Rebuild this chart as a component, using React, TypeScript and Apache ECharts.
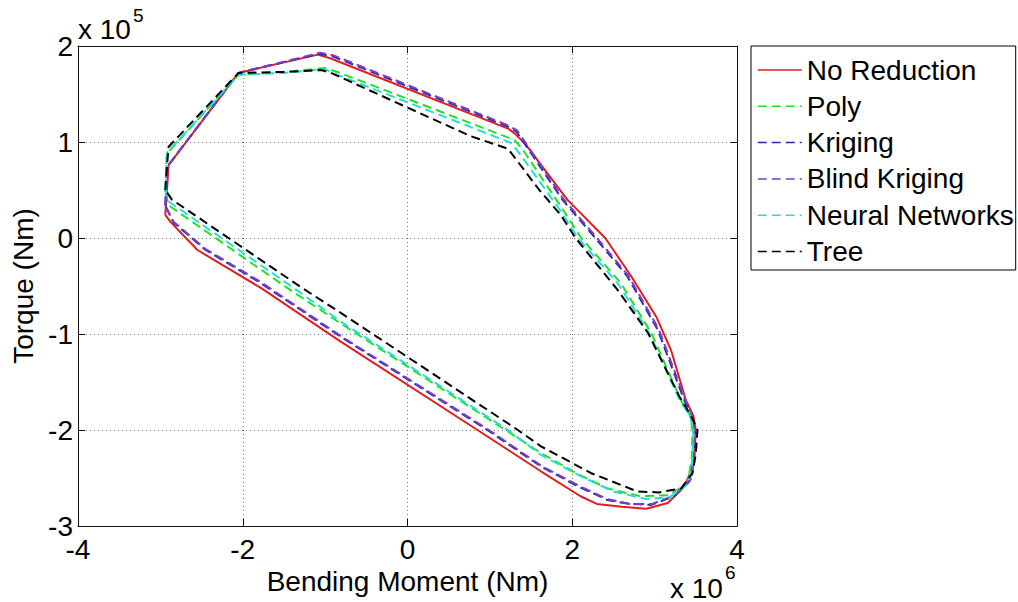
import React, { useEffect, useRef } from "react";
import * as echarts from "echarts";

// Bending moment in units of 1e6 Nm, torque in units of 1e5 Nm
const noReductionX = [-2.94, -2.92, -2.9, -2.05, -1.09, -0.93, 1.22, 1.3, 1.42, 1.94, 2.4, 2.71, 3.02, 3.2, 3.38, 3.47, 3.5, 3.48, 3.43, 3.36, 3.16, 2.9, 2.6, 2.3, 2.1, 1.62, 0.85, -0.81, -1.78, -2.55, -2.88, -2.94];
const noReductionY = [0.24, 0.5, 0.76, 1.72, 1.91, 1.87, 1.14, 1.09, 0.99, 0.4, 0.0, -0.39, -0.82, -1.17, -1.69, -1.85, -2.0, -2.28, -2.45, -2.59, -2.76, -2.82, -2.8, -2.77, -2.69, -2.43, -2.0, -1.08, -0.52, -0.125, 0.17, 0.24];

const polyX = [-2.94, -2.93, -2.92, -2.05, -1.5, -1.01, -0.85, 1.3, 1.4, 1.86, 2.11, 2.59, 2.96, 3.32, 3.43, 3.46, 3.45, 3.4, 3.16, 2.83, 2.43, 2.05, 1.62, 1.19, -0.81, -1.46, -2.9, -2.94];
const polyY = [0.48, 0.7, 0.88, 1.7, 1.73, 1.77, 1.73, 1.02, 0.92, 0.33, 0.0, -0.47, -0.99, -1.69, -1.85, -2.0, -2.3, -2.56, -2.68, -2.69, -2.61, -2.45, -2.24, -2.0, -0.89, -0.52, 0.34, 0.48];

const krigingX = [-2.94, -2.93, -2.91, -2.05, -1.07, -0.9, 1.22, 1.32, 1.4, 1.88, 2.28, 2.67, 3.04, 3.36, 3.46, 3.49, 3.48, 3.44, 3.24, 2.96, 2.7, 2.43, 2.1, 1.62, 0.97, -0.81, -1.78, -2.45, -2.84, -2.94];
const krigingY = [0.34, 0.55, 0.75, 1.72, 1.92, 1.89, 1.16, 1.11, 1.01, 0.4, 0.0, -0.4, -0.96, -1.69, -1.85, -2.0, -2.3, -2.52, -2.69, -2.78, -2.77, -2.73, -2.6, -2.38, -2.0, -1.03, -0.47, -0.125, 0.16, 0.34];

const blindKrigingX = [-2.94, -2.93, -2.91, -2.05, -1.06, -0.89, 1.23, 1.33, 1.41, 1.89, 2.29, 2.68, 3.05, 3.37, 3.46, 3.49, 3.48, 3.44, 3.25, 2.97, 2.7, 2.43, 2.1, 1.62, 0.97, -0.81, -1.78, -2.45, -2.84, -2.94];
const blindKrigingY = [0.33, 0.55, 0.75, 1.72, 1.93, 1.9, 1.17, 1.12, 1.02, 0.41, 0.01, -0.39, -0.95, -1.68, -1.85, -2.0, -2.29, -2.51, -2.68, -2.77, -2.77, -2.72, -2.59, -2.37, -1.99, -1.02, -0.46, -0.115, 0.17, 0.33];

const neuralX = [-2.94, -2.93, -2.92, -2.05, -1.5, -1.01, -0.88, 1.26, 1.36, 1.82, 2.07, 2.56, 2.94, 3.31, 3.43, 3.47, 3.46, 3.41, 3.18, 2.9, 2.5, 2.1, 1.62, 1.22, -0.81, -1.38, -2.9, -2.94];
const neuralY = [0.52, 0.72, 0.89, 1.7, 1.72, 1.76, 1.71, 0.99, 0.88, 0.33, 0.0, -0.48, -1.0, -1.7, -1.85, -2.0, -2.3, -2.56, -2.7, -2.72, -2.64, -2.48, -2.26, -2.0, -0.87, -0.52, 0.38, 0.52];

const treeX = [-2.94, -2.92, -2.9, -2.05, -1.5, -1.05, -0.93, 0.77, 1.22, 1.3, 1.6, 1.86, 2.04, 2.55, 2.92, 3.3, 3.44, 3.52, 3.5, 3.46, 3.32, 3.05, 2.79, 2.23, 1.62, 1.34, -0.81, -1.28, -2.86, -2.94];
const treeY = [0.5, 0.75, 0.95, 1.72, 1.73, 1.75, 1.72, 1.06, 0.93, 0.84, 0.5, 0.24, 0.0, -0.54, -0.99, -1.65, -1.85, -2.0, -2.25, -2.45, -2.61, -2.65, -2.64, -2.45, -2.17, -2.0, -0.78, -0.52, 0.4, 0.5];

const seriesNames = ["No Reduction", "Poly", "Kriging", "Blind Kriging", "Neural Networks", "Tree"];
const seriesColors = ["#e01e1e", "#22e022", "#2a2aa8", "#7d3cc8", "#22dede", "#000000"];

const FONT = "'Liberation Sans', Arial, sans-serif";

function pairs(xs: number[], ys: number[]) {
  return xs.map((x, i) => [x, ys[i]]);
}

export default function App() {
  const ref = useRef<HTMLDivElement>(null);
  useEffect(() => {
    if (!ref.current) return;
    const chart = echarts.init(ref.current, undefined, { renderer: "svg" });
    const allData = [
      pairs(noReductionX, noReductionY),
      pairs(polyX, polyY),
      pairs(krigingX, krigingY),
      pairs(blindKrigingX, blindKrigingY),
      pairs(neuralX, neuralY),
      pairs(treeX, treeY),
    ];
    const axisCommon = {
      axisLine: { show: true, onZero: false, lineStyle: { color: "#111", width: 1 } },
      axisTick: { show: true, inside: true, length: 7, lineStyle: { color: "#111" } },
    };
    chart.setOption({
      animation: false,
      backgroundColor: "#ffffff",
      grid: { left: 78, top: 46, right: 281, bottom: 76, containLabel: false, outerBoundsMode: "none" },
      xAxis: [
        {
          type: "value",
          min: -4,
          max: 4,
          interval: 2,
          position: "bottom",
          ...axisCommon,
          axisLabel: { fontFamily: FONT, fontSize: 28, color: "#000", margin: 9 },
          splitLine: { show: true, lineStyle: { color: "#777", type: [1, 3], width: 1 } },
          name: "Bending Moment (Nm)",
          nameLocation: "middle",
          nameGap: 31,
          nameTextStyle: { fontFamily: FONT, fontSize: 28, color: "#000" },
        },
        {
          type: "value",
          min: -4,
          max: 4,
          interval: 2,
          position: "top",
          ...axisCommon,
          axisLabel: { show: false },
          splitLine: { show: false },
        },
      ],
      yAxis: [
        {
          type: "value",
          min: -3,
          max: 2,
          interval: 1,
          position: "left",
          ...axisCommon,
          axisLabel: { fontFamily: FONT, fontSize: 28, color: "#000", margin: 5 },
          splitLine: { show: true, lineStyle: { color: "#777", type: [1, 3], width: 1 } },
          name: "Torque (Nm)",
          nameLocation: "middle",
          nameGap: 40,
          nameTextStyle: { fontFamily: FONT, fontSize: 28, color: "#000" },
        },
        {
          type: "value",
          min: -3,
          max: 2,
          interval: 1,
          position: "right",
          ...axisCommon,
          axisLabel: { show: false },
          splitLine: { show: false },
        },
      ],
      legend: {
        orient: "vertical",
        left: 751,
        top: 46,
        itemWidth: 44,
        itemHeight: 12,
        itemGap: 8.3,
        padding: [10, 2, 4.5, 6],
        borderColor: "#000",
        borderWidth: 1,
        backgroundColor: "#fff",
        data: seriesNames,
        itemStyle: { opacity: 0 },
        lineStyle: { width: 1.5 },
        textStyle: { fontFamily: FONT, fontSize: 28, lineHeight: 28, color: "#000" },
      },
      graphic: [
        { type: "text", left: 78, top: 15, style: { text: "x 10", font: "28px 'Liberation Sans'", fill: "#000" } },
        { type: "text", left: 133, top: 6, style: { text: "5", font: "19px 'Liberation Sans'", fill: "#000" } },
        { type: "text", left: 670, top: 574, style: { text: "x 10", font: "28px 'Liberation Sans'", fill: "#000" } },
        { type: "text", left: 725, top: 563, style: { text: "6", font: "19px 'Liberation Sans'", fill: "#000" } },
      ],
      series: seriesNames.map((name, i) => ({
        name,
        type: "line",
        data: allData[i],
        showSymbol: false,
        symbol: "none",
        z: 2 + i,
        lineStyle: {
          color: seriesColors[i],
          width: 2,
          type: i === 0 ? "solid" : [9, 5],
        },
        itemStyle: { color: seriesColors[i] },
      })),
    });
    return () => chart.dispose();
  }, []);
  return (
    <div
      ref={ref}
      style={{ position: "absolute", left: 0, top: 0, width: 1018, height: 602, background: "#fff" }}
    />
  );
}
